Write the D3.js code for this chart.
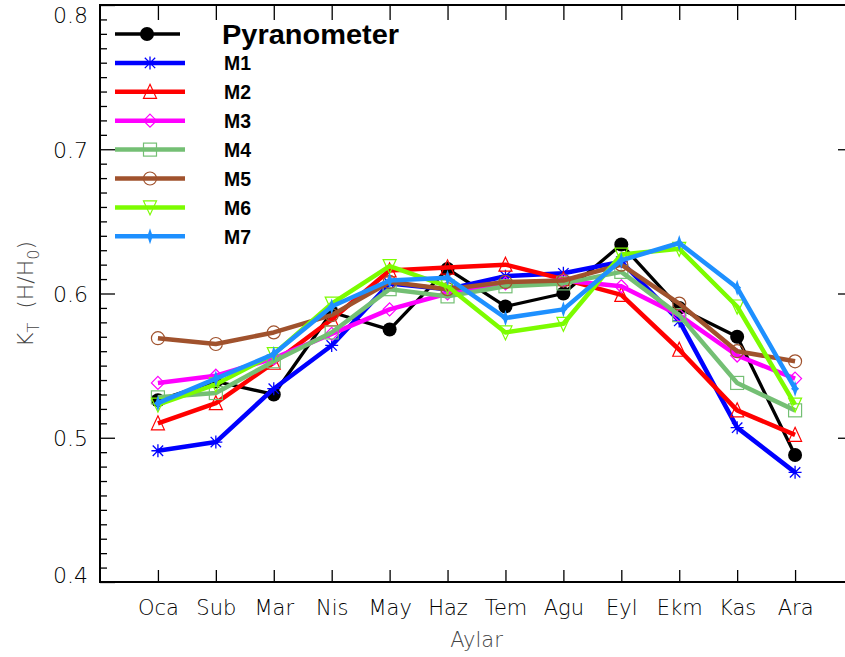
<!DOCTYPE html>
<html>
  <head>
    <meta charset="utf-8" />
    <title>KT aylik</title>
    <script src="https://d3js.org/d3.v7.min.js"></script>
    <style>
      body { margin: 0; background: #fff; }
      svg { display: block; }
      .tick text { font-family: "DejaVu Sans", sans-serif; font-weight: 200; fill: #000; }
      .legend text { font-family: "Liberation Sans", Arial, sans-serif; font-weight: bold; fill: #000; }
    </style>
  </head>
  <body>
    <svg width="845" height="657"></svg>
    <script>
      const months = ["Oca", "Sub", "Mar", "Nis", "May", "Haz", "Tem", "Agu", "Eyl", "Ekm", "Kas", "Ara"];

      const pyranometer = [0.526, 0.539, 0.530, 0.587, 0.575, 0.617, 0.591, 0.600, 0.634, 0.590, 0.570, 0.488];
      const m1 = [0.491, 0.497, 0.534, 0.564, 0.607, 0.603, 0.612, 0.614, 0.622, 0.581, 0.507, 0.476];
      const m2 = [0.510, 0.524, 0.552, 0.582, 0.616, 0.618, 0.620, 0.610, 0.599, 0.561, 0.519, 0.502];
      const m3 = [0.538, 0.543, 0.555, 0.572, 0.589, 0.600, 0.607, 0.609, 0.605, 0.585, 0.557, 0.541];
      const m4 = [0.528, 0.531, 0.553, 0.573, 0.603, 0.598, 0.605, 0.607, 0.615, 0.585, 0.538, 0.519];
      const m5 = [0.569, 0.565, 0.573, 0.585, 0.608, 0.603, 0.608, 0.609, 0.620, 0.593, 0.560, 0.553];
      const m6 = [0.523, 0.537, 0.558, 0.593, 0.619, 0.605, 0.573, 0.579, 0.627, 0.631, 0.591, 0.523];
      const m7 = [0.524, 0.541, 0.558, 0.591, 0.609, 0.611, 0.583, 0.589, 0.623, 0.635, 0.604, 0.534];

      const series = [
        { name: "Pyranometer", values: pyranometer, color: "#000000", marker: "dot", width: 3.3 },
        { name: "M1", values: m1, color: "#0000ff", marker: "asterisk", width: 4.5 },
        { name: "M2", values: m2, color: "#ff0000", marker: "triangle", width: 4.5 },
        { name: "M3", values: m3, color: "#ff00ff", marker: "diamond", width: 4.5 },
        { name: "M4", values: m4, color: "#74bf74", marker: "square", width: 4.5 },
        { name: "M5", values: m5, color: "#a0522d", marker: "circle", width: 4.5 },
        { name: "M6", values: m6, color: "#7cfc00", marker: "triangleDown", width: 4.5 },
        { name: "M7", values: m7, color: "#1e90ff", marker: "star4", width: 4.5 }
      ];

      const svg = d3.select("svg");
      const plotLeft = 100, plotRight = 853, plotTop = 5, plotBottom = 582;

      const x = d3.scaleLinear().domain([-1, 12]).range([plotLeft, plotRight]);
      const y = d3.scaleLinear().domain([0.4, 0.8]).range([plotBottom, plotTop]);

      // frame
      svg.append("rect")
        .attr("x", plotLeft).attr("y", plotTop)
        .attr("width", plotRight - plotLeft).attr("height", plotBottom - plotTop)
        .attr("fill", "none").attr("stroke", "#000").attr("stroke-width", 2);

      const monthIdx = d3.range(12);

      // left axis: minor ticks
      const minor = d3.range(40, 81).map(d => d / 100).filter(d => Math.round(d * 100) % 10 !== 0);
      svg.append("g")
        .attr("transform", `translate(${plotLeft},0)`)
        .call(d3.axisLeft(y).tickValues(minor).tickSize(-7).tickFormat(""))
        .call(g => g.select(".domain").remove())
        .call(g => g.selectAll("line").attr("stroke", "#000").attr("stroke-width", 1.3));

      // left axis: major ticks
      const yl = svg.append("g")
        .attr("transform", `translate(${plotLeft},0)`)
        .call(d3.axisLeft(y).tickValues([0.4, 0.5, 0.6, 0.7, 0.8]).tickSize(-15).tickFormat(d3.format(".1f")))
        .call(g => g.select(".domain").remove())
        .call(g => g.selectAll("line").attr("stroke", "#000").attr("stroke-width", 1.3));
      yl.selectAll("text").attr("font-size", 22).attr("x", -12).attr("dy", "0.36em");
      yl.selectAll(".tick").filter(d => d === 0.8).select("text").attr("dy", "0.8em");
      yl.selectAll(".tick").filter(d => d === 0.4).select("text").attr("dy", "0.0em");

      // right axis
      svg.append("g")
        .attr("transform", `translate(${plotRight},0)`)
        .call(d3.axisRight(y).tickValues([0.5, 0.6, 0.7]).tickSize(-15).tickFormat(""))
        .call(g => g.select(".domain").remove())
        .call(g => g.selectAll("line").attr("stroke", "#000").attr("stroke-width", 1.3));

      // top axis
      svg.append("g")
        .attr("transform", `translate(0,${plotTop})`)
        .call(d3.axisTop(x).tickValues(monthIdx).tickSize(-15).tickFormat(""))
        .call(g => g.select(".domain").remove())
        .call(g => g.selectAll("line").attr("stroke", "#000").attr("stroke-width", 1.3));

      // bottom axis
      const xb = svg.append("g")
        .attr("transform", `translate(0,${plotBottom})`)
        .call(d3.axisBottom(x).tickValues(monthIdx).tickSize(-12).tickFormat(i => months[i]))
        .call(g => g.select(".domain").remove())
        .call(g => g.selectAll("line").attr("stroke", "#000").attr("stroke-width", 1.3));
      xb.selectAll("text").attr("font-size", 21).attr("y", 18).attr("dy", "0.71em");

      // axis titles
      svg.append("text")
        .attr("x", x(5.5)).attr("y", 647)
        .attr("text-anchor", "middle")
        .attr("font-family", "DejaVu Sans, sans-serif").attr("font-weight", 200)
        .attr("font-size", 21).attr("fill", "#444")
        .text("Aylar");

      const yt = svg.append("text")
        .attr("transform", "translate(33,294) rotate(-90)")
        .attr("text-anchor", "middle")
        .attr("font-family", "DejaVu Sans, sans-serif").attr("font-weight", 200)
        .attr("font-size", 22).attr("fill", "#444");
      yt.append("tspan").text("K");
      yt.append("tspan").attr("font-size", 16).attr("dy", 6).text("T");
      yt.append("tspan").attr("dy", -6).text("\u00a0\u00a0(H/H");
      yt.append("tspan").attr("font-size", 16).attr("dy", 6).text("0");
      yt.append("tspan").attr("dy", -6).text(")");

      // marker drawing
      function drawMarker(g, type, color, cx, cy) {
        const s = 6.5;
        if (type === "dot") {
          g.append("circle").attr("cx", cx).attr("cy", cy).attr("r", 7).attr("fill", color);
        } else if (type === "circle") {
          g.append("circle").attr("cx", cx).attr("cy", cy).attr("r", s).attr("fill", "none").attr("stroke", color).attr("stroke-width", 1.2);
        } else if (type === "square") {
          g.append("rect").attr("x", cx - s).attr("y", cy - s).attr("width", 2 * s).attr("height", 2 * s)
            .attr("fill", "none").attr("stroke", color).attr("stroke-width", 1.2);
        } else if (type === "diamond") {
          g.append("path").attr("d", `M${cx},${cy - s}L${cx + s},${cy}L${cx},${cy + s}L${cx - s},${cy}Z`)
            .attr("fill", "none").attr("stroke", color).attr("stroke-width", 1.2);
        } else if (type === "triangle") {
          g.append("path").attr("d", `M${cx},${cy - s - 1}L${cx + s},${cy + s}L${cx - s},${cy + s}Z`)
            .attr("fill", "none").attr("stroke", color).attr("stroke-width", 1.2);
        } else if (type === "triangleDown") {
          g.append("path").attr("d", `M${cx - s},${cy - s}L${cx + s},${cy - s}L${cx},${cy + s + 1}Z`)
            .attr("fill", "none").attr("stroke", color).attr("stroke-width", 1.2);
        } else if (type === "asterisk") {
          const a = s * 0.8;
          g.append("path")
            .attr("d", `M${cx - s},${cy}L${cx + s},${cy}M${cx},${cy - s}L${cx},${cy + s}` +
              `M${cx - a},${cy - a}L${cx + a},${cy + a}M${cx - a},${cy + a}L${cx + a},${cy - a}`)
            .attr("stroke", color).attr("stroke-width", 1.3).attr("fill", "none");
        } else if (type === "star4") {
          g.append("path")
            .attr("d", `M${cx},${cy - 8}L${cx + 2},${cy - 2}L${cx + 4},${cy}L${cx + 2},${cy + 2}L${cx},${cy + 8}L${cx - 2},${cy + 2}L${cx - 4},${cy}L${cx - 2},${cy - 2}Z`)
            .attr("fill", color);
        }
      }

      const line = d3.line().x((d, i) => x(i)).y(d => y(d));

      series.forEach(s => {
        const g = svg.append("g");
        g.append("path")
          .attr("d", line(s.values))
          .attr("fill", "none")
          .attr("stroke", s.color)
          .attr("stroke-width", s.width)
          .attr("stroke-linejoin", "round");
        s.values.forEach((v, i) => drawMarker(g, s.marker, s.color, x(i), y(v)));
      });

      // legend
      const legend = svg.append("g").attr("class", "legend");
      series.forEach((s, i) => {
        const ly = 34 + i * 28.9;
        const x0 = 115, x1 = i === 0 ? 180 : 185, mx = i === 0 ? 147 : 150;
        legend.append("line").attr("x1", x0).attr("x2", x1).attr("y1", ly).attr("y2", ly)
          .attr("stroke", s.color).attr("stroke-width", s.width);
        drawMarker(legend, s.marker, s.color, mx, ly);
        legend.append("text")
          .attr("x", i === 0 ? 222 : 224)
          .attr("y", ly)
          .attr("dy", "0.36em")
          .attr("font-size", i === 0 ? 27 : 20)
          .attr("textLength", i === 0 ? 177 : 27)
          .attr("lengthAdjust", "spacingAndGlyphs")
          .text(s.name);
      });
    </script>
  </body>
</html>
